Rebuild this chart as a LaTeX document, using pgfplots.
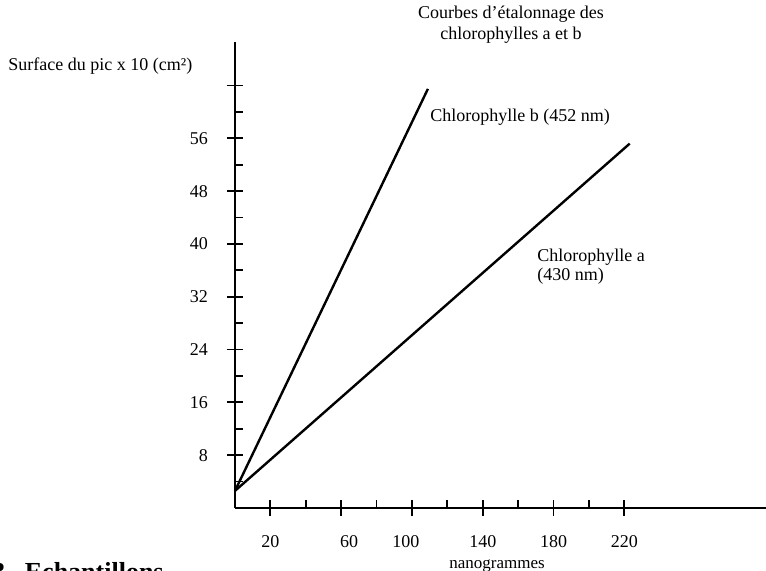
\documentclass[border=0pt]{standalone}
\usepackage{fontspec}
\setmainfont{Liberation Serif}
\usepackage{pgfplots}
\pgfplotsset{compat=1.18}
\begin{document}
\begin{tikzpicture}[font=\fontsize{9}{9.5}\selectfont]
\begin{axis}[
  scale only axis, width=265.5pt, height=233pt,
  xmin=0, xmax=300, ymin=0, ymax=70.6,
  axis lines=left, axis line style={-, line width=1pt},
  xtick={20,60,100,140,180,220},
  xticklabels={20,{\hspace*{8pt}60},{100\hspace*{6pt}},140,180,220},
  minor xtick={40,80,120,160,200},
  ytick={8,16,24,32,40,48,56,64}, yticklabels={8,16,24,32,40,48,56,{}},
  minor ytick={4,12,20,28,36,44,52,60},
  tick align=center,
  major tick length=8pt, minor tick length=4pt,
  tick style={line width=0.9pt, black},
  minor x tick style={yshift=2pt},
  minor y tick style={xshift=2pt},
  /pgf/number format/assume math mode=true,
  ticklabel style={font=\fontsize{9}{9.5}\selectfont},
  xticklabel style={yshift=-6pt},
  yticklabel style={xshift=-6pt},
  clip=false,
]
\addplot[line width=1.2pt, black] coordinates {(0,2.6) (223,55.2)};
\addplot[line width=1.2pt, black] coordinates {(0,2.6) (109,63.5)};
\end{axis}
\node[align=center, inner sep=0pt, font=\fontsize{9}{10.5}\selectfont] at (138pt,241.75pt) {Courbes d'étalonnage des\\chlorophylles a et b};
\node[anchor=west, inner sep=0pt] at (-113.5pt,221pt) {Surface du pic x 10 (cm²)};
\node[anchor=west, inner sep=0pt] at (97.5pt,195.5pt) {Chlorophylle b (452 nm)};
\node[anchor=west, align=left, inner sep=0pt] at (151pt,120.75pt) {Chlorophylle a\\(430 nm)};
\node[inner sep=0pt, font=\fontsize{8.5}{9}\selectfont] at (131pt,-29pt) {nanogrammes};
\node[anchor=base west, inner sep=0pt, font=\fontsize{13}{14}\selectfont\bfseries] at (-121.5pt,-36.5pt) {3.\ \ Echantillons};
\pgfresetboundingbox
\useasboundingbox (-117.5pt,-31.5pt) rectangle (265.5pt,254pt);
\end{tikzpicture}
\end{document}
